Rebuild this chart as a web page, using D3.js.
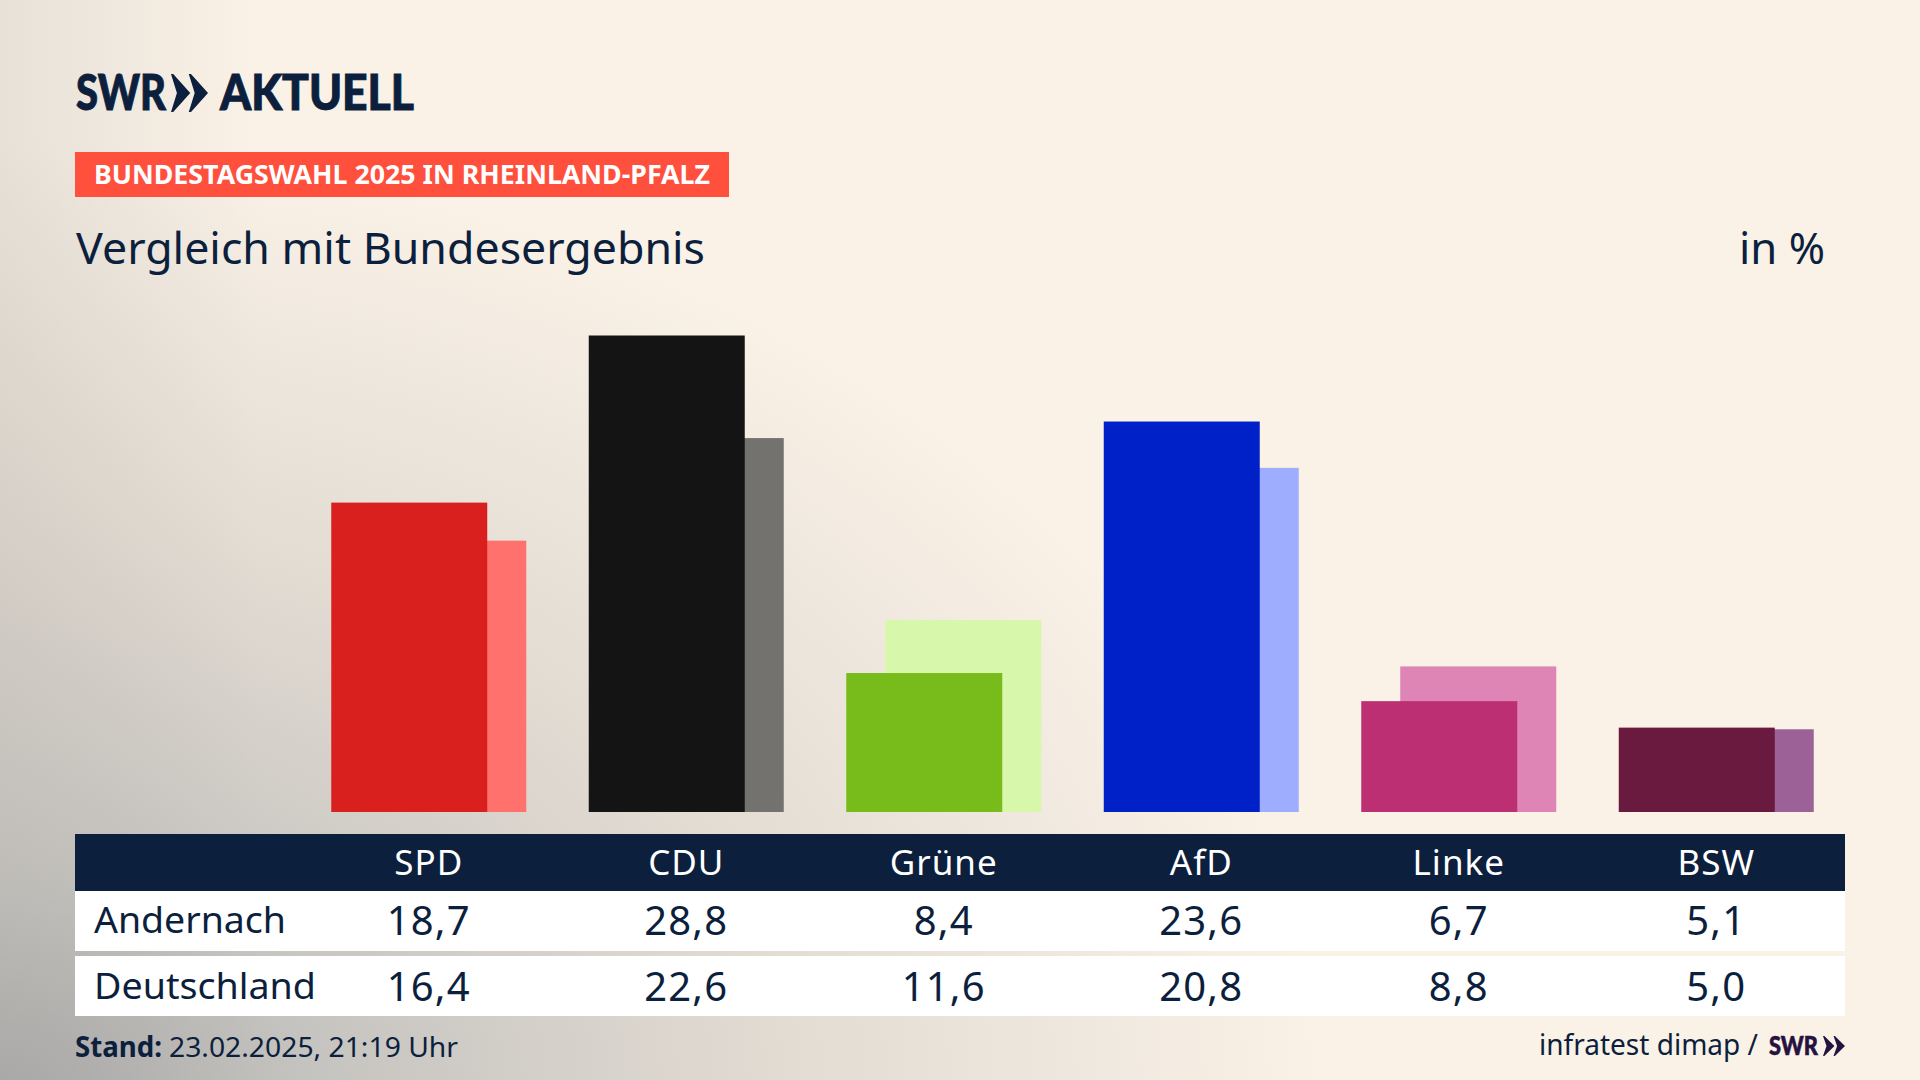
<!DOCTYPE html>
<html>
<head>
    <meta charset="utf-8">
    <style>
        html, body { margin: 0; padding: 0; background: #faf2e7; }
        svg { display: block; }
        text { font-family: "Noto Sans", Lato, sans-serif; fill: #0c1f3d; }
    </style>
</head>
<body>
    <svg id="chart" width="1920" height="1080"></svg>
    <script src="https://cdn.jsdelivr.net/npm/d3@7"></script>
    <script>
        var parties = ["SPD", "CDU", "Grüne", "AfD", "Linke", "BSW"];
        var andernach = [18.7, 28.8, 8.4, 23.6, 6.7, 5.1];
        var deutschland = [16.4, 22.6, 11.6, 20.8, 8.8, 5.0];
        var mainColors = ["#d9201e", "#141414", "#78bc1b", "#0020c8", "#bc2f73", "#6a1a3f"];
        var lightColors = ["#ff716d", "#73726f", "#d7f7aa", "#9fadff", "#de85b5", "#9c6298"];

        var navy = "#0c1f3d";
        var svg = d3.select("#chart");
        var fmt = function (v) { return v.toFixed(1).replace(".", ","); };

        var x = d3.scaleBand().domain(parties).range([300, 1845]);
        var y = d3.scaleLinear().domain([0, 28.8]).range([812, 335.5]);
        var barW = 156;

        // hintergrund: grauer verlauf von unten links, dazu leicht vom linken rand
        var defs = svg.append("defs");
        var grad = defs.append("radialGradient").attr("id", "bg")
            .attr("gradientUnits", "userSpaceOnUse")
            .attr("cx", 0).attr("cy", 0).attr("r", 1)
            .attr("gradientTransform", "translate(0,1100) scale(1330,960)");
        grad.append("stop").attr("offset", 0).attr("stop-color", "#a8a8a8");
        grad.append("stop").attr("offset", 0.24).attr("stop-color", "#c6c4c0");
        grad.append("stop").attr("offset", 0.6).attr("stop-color", "#e3dcd3");
        grad.append("stop").attr("offset", 1).attr("stop-color", "#faf2e7");
        var edge = defs.append("linearGradient").attr("id", "edge")
            .attr("gradientUnits", "userSpaceOnUse")
            .attr("x1", 0).attr("y1", 0).attr("x2", 260).attr("y2", 0);
        edge.append("stop").attr("offset", 0).attr("stop-color", "#a8a49e").attr("stop-opacity", 0.22);
        edge.append("stop").attr("offset", 1).attr("stop-color", "#a8a49e").attr("stop-opacity", 0);
        svg.append("rect").attr("width", 1920).attr("height", 1080).attr("fill", "#faf2e7");
        svg.append("rect").attr("width", 1920).attr("height", 1080).attr("fill", "url(#bg)");
        svg.append("rect").attr("width", 260).attr("height", 1080).attr("fill", "url(#edge)");

        // text mit fester breite, die hausschrift ist schmaler
        function label(px, py, str, size, width, opts) {
            opts = opts || {};
            var t = svg.append("text").attr("x", px).attr("y", py)
                .attr("font-size", size)
                .attr("font-weight", opts.weight || 400)
                .text(str);
            if (opts.fill) t.style("fill", opts.fill);
            if (opts.family) t.style("font-family", opts.family);
            if (opts.stroke) t.style("stroke", opts.fill || navy).style("stroke-width", opts.stroke);
            if (width) t.attr("textLength", width).attr("lengthAdjust", "spacingAndGlyphs");
            return t;
        }

        function chevrons(px, py, w, h, fill) {
            var g = svg.append("g").attr("fill", fill);
            [0, w * 0.48].forEach(function (dx) {
                g.append("path")
                    .attr("transform", "translate(" + (px + dx) + "," + py + ")")
                    .attr("d", "M0,0L" + (w * 0.06) + ",0L" + (w * 0.52) + "," + (h / 2) + "L" + (w * 0.06) + "," + h +
                        "L0," + h + "L" + (w * 0.16) + "," + (h / 2) + "Z");
            });
        }

        // logo
        label(76, 110, "SWR", 49, 90, { weight: 900, family: "Lato", stroke: 1 });
        chevrons(171, 74, 37, 38, navy);
        label(220, 110, "AKTUELL", 49, 194, { weight: 900, family: "Lato", stroke: 1 });

        // kopf
        svg.append("rect").attr("x", 75).attr("y", 152).attr("width", 654).attr("height", 45).attr("fill", "#ff4f3d");
        label(94, 184, "BUNDESTAGSWAHL 2025 IN RHEINLAND-PFALZ", 27, 616, { weight: 700, fill: "#ffffff" });
        label(76, 264, "Vergleich mit Bundesergebnis", 44, 629);
        label(1739, 264, "in %", 44, 86);

        // balken, bund hinten
        svg.append("g").selectAll("rect").data(deutschland).join("rect")
            .attr("x", function (d, i) { return x(parties[i]) + x.bandwidth() / 2 - 58.5; })
            .attr("y", function (d) { return y(d); })
            .attr("width", barW)
            .attr("height", function (d) { return y(0) - y(d); })
            .attr("fill", function (d, i) { return lightColors[i]; });

        svg.append("g").selectAll("rect").data(andernach).join("rect")
            .attr("x", function (d, i) { return x(parties[i]) + x.bandwidth() / 2 - 97.5; })
            .attr("y", function (d) { return y(d); })
            .attr("width", barW)
            .attr("height", function (d) { return y(0) - y(d); })
            .attr("fill", function (d, i) { return mainColors[i]; });

        // tabelle
        svg.append("rect").attr("x", 75).attr("y", 834).attr("width", 1770).attr("height", 57).attr("fill", navy);
        svg.append("rect").attr("x", 75).attr("y", 891).attr("width", 1770).attr("height", 60).attr("fill", "#fff");
        svg.append("rect").attr("x", 75).attr("y", 956).attr("width", 1770).attr("height", 60).attr("fill", "#fff");

        var header = svg.append("g").attr("transform", "translate(0,875)")
            .call(d3.axisBottom(x).tickSize(0).tickPadding(0));
        header.select(".domain").remove();
        header.selectAll("text")
            .attr("y", 0).attr("dy", 0)
            .attr("font-size", 35)
            .attr("font-family", "Noto Sans, sans-serif")
            .style("letter-spacing", "1px")
            .style("fill", "#ffffff");

        [[andernach, 935], [deutschland, 1001]].forEach(function (row) {
            svg.append("g").selectAll("text").data(row[0]).join("text")
                .attr("x", function (d, i) { return x(parties[i]) + x.bandwidth() / 2; })
                .attr("y", row[1])
                .attr("text-anchor", "middle")
                .attr("font-size", 40)
                .style("letter-spacing", "1.2px")
                .text(fmt);
        });
        label(94, 933, "Andernach", 37, 192);
        label(94, 999, "Deutschland", 37, 222);

        // fuss
        label(75, 1057, "Stand:", 28, 87, { weight: 700 });
        label(169, 1057, "23.02.2025, 21:19 Uhr", 28, 289);
        label(1539, 1055, "infratest dimap /", 29, 219);
        label(1769, 1055, "SWR", 26, 49, { weight: 900, family: "Lato", fill: "#26123f", stroke: 0.6 });
        chevrons(1823, 1036, 22, 20, "#26123f");
    </script>
</body>
</html>
